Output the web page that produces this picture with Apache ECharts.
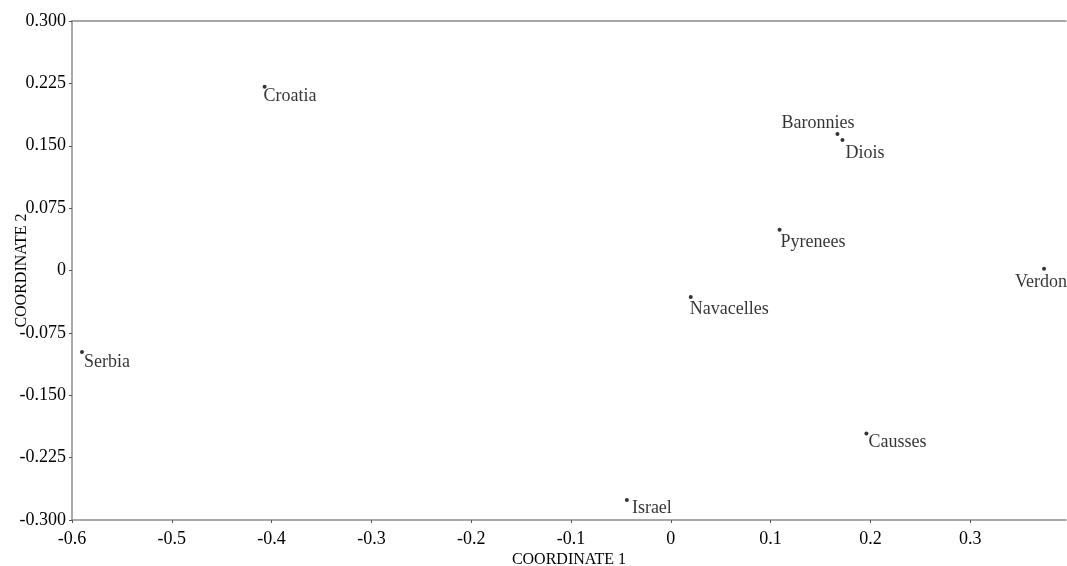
<!DOCTYPE html>
<html><head><meta charset="utf-8">
<script src="https://cdn.jsdelivr.net/npm/echarts@6/dist/echarts.min.js"></script>
<style>html,body{margin:0;padding:0;background:#fff}#c{width:1067px;height:566px}</style>
</head><body><div id="c"></div>
<script>
const names = ['Croatia','Baronnies','Diois','Pyrenees','Verdon','Navacelles','Serbia','Causses','Israel'];
const coord1 = [-0.407, 0.167, 0.172, 0.109, 0.374, 0.020, -0.590, 0.196, -0.044];
const coord2 = [0.221, 0.164, 0.157, 0.049, 0.002, -0.032, -0.098, -0.196, -0.276];
const xTicks = {min: -0.6, interval: 0.1};
const yTicks = {min: -0.3, max: 0.3, interval: 0.075};

// label placement (style only): [dx, dy, align]
const labelPlace = {
  Croatia: [-1, 10, 'left'], Baronnies: [-56, -11, 'left'], Diois: [3, 13, 'left'],
  Pyrenees: [1, 13, 'left'], Verdon: [-29, 13, 'left'], Navacelles: [-1, 12, 'left'],
  Serbia: [2, 10, 'left'], Causses: [2, 9, 'left'], Israel: [5, 8, 'left']
};

const font = '"Liberation Serif","Times New Roman",serif';
const data = names.map((n, i) => {
  const p = labelPlace[n];
  return {name: n, value: [coord1[i], coord2[i]],
    label: {show: true, formatter: n, position: 'inside', align: p[2], verticalAlign: 'middle', offset: [p[0], p[1]]}};
});

const chart = echarts.init(document.getElementById('c'));
chart.setOption({
  animation: false,
  grid: {left: 72, right: 1, top: 21, bottom: 46, containLabel: false, outerBoundsMode: 'none'},
  xAxis: [{
    type: 'value', min: xTicks.min, max: 0.396, interval: xTicks.interval,
    name: 'COORDINATE 1', nameLocation: 'middle', nameGap: 32, nameMoveOverlap: false,
    nameTextStyle: {fontFamily: font, fontSize: 16, color: '#000'},
    axisLine: {onZero: false, lineStyle: {color: '#8c8c8c', width: 1.5}},
    axisTick: {show: true, length: 3, lineStyle: {color: '#555'}},
    axisLabel: {fontFamily: font, fontSize: 18, color: '#000', margin: 10, showMaxLabel: false,
      formatter: v => { if (Math.abs(v * 10 - Math.round(v * 10)) > 1e-6) return ''; const r = Math.round(v * 10) / 10; return r === 0 ? '0' : String(r); }},
    splitLine: {show: false}
  }, {
    type: 'value', position: 'top', min: xTicks.min, max: 0.396,
    axisLine: {show: true, onZero: false, lineStyle: {color: '#8c8c8c', width: 1.5}},
    axisTick: {show: false}, axisLabel: {show: false}, splitLine: {show: false}
  }],
  yAxis: {
    type: 'value', min: yTicks.min, max: yTicks.max, interval: yTicks.interval,
    name: 'COORDINATE 2', nameLocation: 'middle', nameGap: 42, nameRotate: 90, nameMoveOverlap: false,
    nameTextStyle: {fontFamily: font, fontSize: 16, color: '#000'},
    axisLine: {show: true, onZero: false, lineStyle: {color: '#8c8c8c', width: 1.5}},
    axisTick: {show: true, length: 3, lineStyle: {color: '#555'}},
    axisLabel: {fontFamily: font, fontSize: 18, color: '#000', margin: 6,
      formatter: v => { const r = Math.round(v * 1000) / 1000; return r === 0 ? '0' : r.toFixed(3); }},
    splitLine: {show: false}
  },
  series: [{
    type: 'scatter', xAxisIndex: 0, symbol: 'circle', symbolSize: 4,
    itemStyle: {color: '#000'},
    label: {fontFamily: font, fontSize: 18, color: '#000'},
    data: data
  }]
});
</script></body></html>
